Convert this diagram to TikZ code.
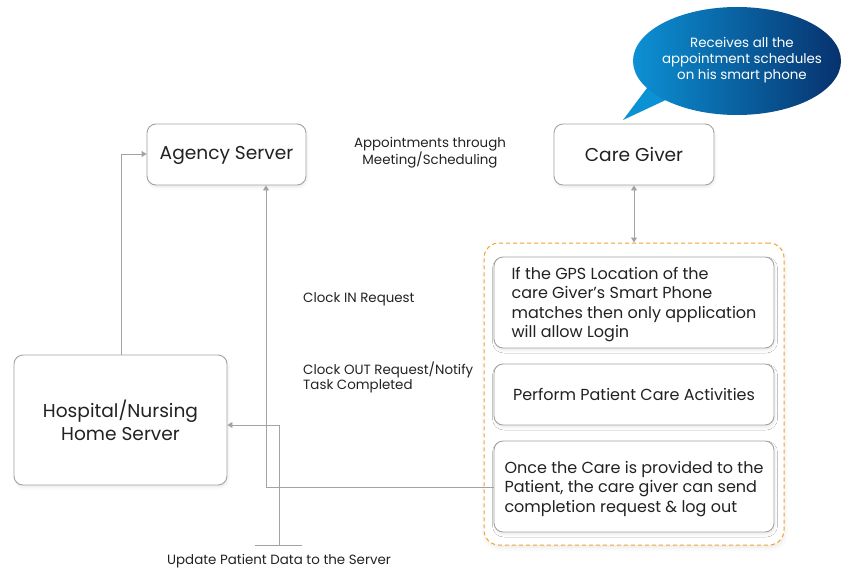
\documentclass[tikz,border=0pt]{standalone}
\usepackage{fontspec}
\setmainfont{Poppins}
\usetikzlibrary{arrows.meta,shadows.blur}
\definecolor{edge}{HTML}{A3A3A3}
\definecolor{ink}{HTML}{222222}
\definecolor{orng}{HTML}{F5A12E}
\definecolor{bluel}{HTML}{0C91D4}
\definecolor{blued}{HTML}{07326E}
\begin{document}
\begin{tikzpicture}[x=1pt,y=-1pt,
  box/.style={draw=edge,line width=0.9pt,rounded corners=9pt,fill=white,text=ink,align=center,inner sep=0pt,
    blur shadow={shadow xshift=1pt,shadow yshift=-2.5pt,shadow blur radius=2.5pt,shadow opacity=8}},
  lbl/.style={text=ink,font=\fontsize{13.4}{15.5}\selectfont,inner sep=0pt,align=left},
  conn/.style={draw=edge,line width=0.9pt},
  tip/.style={-{Triangle[width=6pt,length=5pt]}}]
\useasboundingbox (0,0) rectangle (843,570);
% container
\node[draw=orng,dashed,dash pattern=on 4pt off 3pt,line width=1pt,rounded corners=15pt,fill=white,
  minimum width=300pt,minimum height=302pt,inner sep=0pt,
  blur shadow={shadow xshift=1pt,shadow yshift=-3pt,shadow blur radius=4pt,shadow opacity=8}] (cont) at (634,394) {};
% boxes
\node[box,minimum width=159pt,minimum height=61pt,font=\fontsize{18.6}{22}\selectfont] (agency) at (226.5,154.5) {\raisebox{-1pt}[\height][\depth]{Agency Server}};
\node[box,minimum width=160pt,minimum height=61pt,font=\fontsize{18.6}{22}\selectfont] (care) at (634,154.5) {Care Giver};
\node[box,minimum width=213pt,minimum height=130pt,font=\fontsize{18.6}{23}\selectfont] (hosp) at (120.5,420) {Hospital/Nursing\\Home Server};
\node[box,minimum width=280pt,minimum height=91pt,font=\fontsize{16}{19.4}\selectfont] (gps) at (634,302.5)
  {\raisebox{-2pt}[\height][\depth]{\begin{tabular}{@{}l@{}}If the GPS Location of the\\care Giver’s Smart Phone\\matches then only application\\will allow Login\end{tabular}}};
\node[box,minimum width=280pt,minimum height=61pt,font=\fontsize{16}{19.4}\selectfont] (perf) at (634,394.5)
  {Perform Patient Care Activities};
\node[box,minimum width=280pt,minimum height=91pt,font=\fontsize{16}{19.4}\selectfont] (once) at (634,486.5)
  {\raisebox{-2.5pt}[\height][\depth]{\begin{tabular}{@{}l@{}}Once the Care is provided to the\\Patient, the care giver can send\\completion request \& log out\end{tabular}}};
% bubble
\fill[bluel] (623,120) -- (650,84) -- (670,98) -- cycle;
\shade[left color=bluel,right color=blued] (737,61) ellipse [x radius=104,y radius=54];
\node[text=white,align=center,inner sep=0pt,font=\fontsize{13.4}{16}\selectfont] (bubtxt) at (742,60)
  {Receives all the\\appointment schedules\\on his smart phone};
% labels
\node[lbl,align=center] (appt) at (430,152.5) {Appointments through\\Meeting/Scheduling};
\node[lbl,anchor=west] (clin) at (303,299) {Clock IN Request};
\node[lbl,anchor=west] (clout) at (303,377.5) {Clock OUT Request/Notify\\Task Completed};
\node[lbl] (upd) at (279,561) {Update Patient Data to the Server};
% connectors
\coordinate (hq) at (121,154);
\draw[conn,tip] (hosp.north -| hq) -- (hq) -- (agency.west |- hq);
\coordinate (cl) at (266,487);
\draw[conn,tip] (once.west |- cl) -- (cl) -- (agency.south -| cl);
\coordinate (ub) at (279,545);
\coordinate (ua) at (279,425);
\coordinate (tbl) at (255,545);
\coordinate (tbr) at (302,545);
\draw[conn] (tbl) -- (tbr);
\draw[conn,tip] (ub) -- (ua) -- (hosp.east |- ua);
\draw[conn,{Triangle[width=6pt,length=5pt]}-{Triangle[width=6pt,length=5pt]}] (care.south) -- (cont.north);
\end{tikzpicture}
\end{document}
